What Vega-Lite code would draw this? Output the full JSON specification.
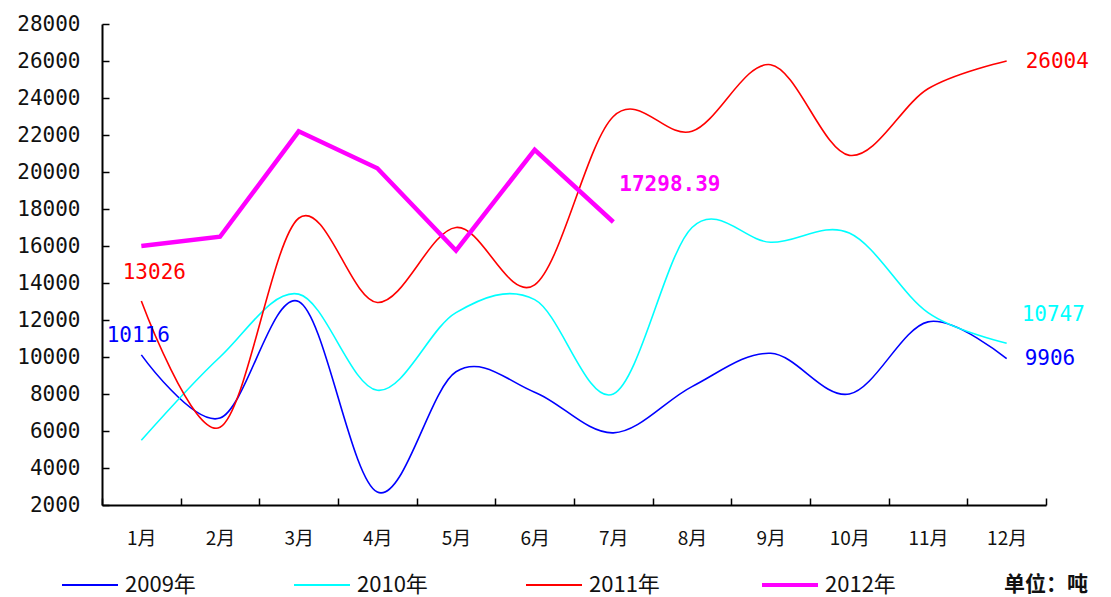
{
  "$schema": "https://vega.github.io/schema/vega-lite/v6.json",
  "width": 944,
  "height": 481,
  "autosize": {"type": "none"},
  "padding": {"left": 102, "top": 24, "right": 65, "bottom": 92},
  "background": "white",
  "config": {"view": {"stroke": null}},
  "data": {"values": [
    {"month": "1月", "year": "2009年", "value": 10116},
    {"month": "2月", "year": "2009年", "value": 6700},
    {"month": "3月", "year": "2009年", "value": 13000},
    {"month": "4月", "year": "2009年", "value": 2700},
    {"month": "5月", "year": "2009年", "value": 9200},
    {"month": "6月", "year": "2009年", "value": 8100},
    {"month": "7月", "year": "2009年", "value": 5900},
    {"month": "8月", "year": "2009年", "value": 8400},
    {"month": "9月", "year": "2009年", "value": 10200},
    {"month": "10月", "year": "2009年", "value": 8000},
    {"month": "11月", "year": "2009年", "value": 11900},
    {"month": "12月", "year": "2009年", "value": 9906},
    {"month": "1月", "year": "2010年", "value": 5500},
    {"month": "2月", "year": "2010年", "value": 10000},
    {"month": "3月", "year": "2010年", "value": 13400},
    {"month": "4月", "year": "2010年", "value": 8200},
    {"month": "5月", "year": "2010年", "value": 12400},
    {"month": "6月", "year": "2010年", "value": 13100},
    {"month": "7月", "year": "2010年", "value": 8000},
    {"month": "8月", "year": "2010年", "value": 17000},
    {"month": "9月", "year": "2010年", "value": 16200},
    {"month": "10月", "year": "2010年", "value": 16700},
    {"month": "11月", "year": "2010年", "value": 12400},
    {"month": "12月", "year": "2010年", "value": 10747},
    {"month": "1月", "year": "2011年", "value": 13026},
    {"month": "2月", "year": "2011年", "value": 6200},
    {"month": "3月", "year": "2011年", "value": 17500},
    {"month": "4月", "year": "2011年", "value": 12950},
    {"month": "5月", "year": "2011年", "value": 17000},
    {"month": "6月", "year": "2011年", "value": 13900},
    {"month": "7月", "year": "2011年", "value": 23000},
    {"month": "8月", "year": "2011年", "value": 22200},
    {"month": "9月", "year": "2011年", "value": 25800},
    {"month": "10月", "year": "2011年", "value": 20900},
    {"month": "11月", "year": "2011年", "value": 24500},
    {"month": "12月", "year": "2011年", "value": 26004},
    {"month": "1月", "year": "2012年", "value": 16000},
    {"month": "2月", "year": "2012年", "value": 16500},
    {"month": "3月", "year": "2012年", "value": 22200},
    {"month": "4月", "year": "2012年", "value": 20200},
    {"month": "5月", "year": "2012年", "value": 15750},
    {"month": "6月", "year": "2012年", "value": 21200},
    {"month": "7月", "year": "2012年", "value": 17298.39}
  ]},
  "encoding": {
    "x": {
      "field": "month", "type": "ordinal",
      "sort": ["1月","2月","3月","4月","5月","6月","7月","8月","9月","10月","11月","12月"],
      "scale": {"paddingInner": 0, "paddingOuter": 0},
      "axis": {
        "title": null, "labelAngle": 0, "tickBand": "extent",
        "domainColor": "#000", "domainWidth": 2, "tickColor": "#000", "tickWidth": 1.5, "tickSize": -7,
        "labelPadding": 40, "labelFont": "Noto Sans CJK SC", "labelFontSize": 19, "labelColor": "#111",
        "labelBaseline": "middle"
      }
    },
    "y": {
      "field": "value", "type": "quantitative",
      "scale": {"domain": [2000, 28000], "nice": false, "zero": false},
      "axis": {
        "title": null, "grid": false,
        "values": [2000,4000,6000,8000,10000,12000,14000,16000,18000,20000,22000,24000,26000,28000],
        "format": "d",
        "domainColor": "#000", "domainWidth": 2, "tickColor": "#000", "tickWidth": 1.5, "tickSize": -7,
        "labelPadding": 29, "labelFont": "DejaVu Sans Mono", "labelFontSize": 21, "labelColor": "#111"
      }
    },
    "color": {"field": "year", "type": "nominal",
      "scale": {"domain": ["2009年","2010年","2011年","2012年"], "range": ["#0000FF","#00FFFF","#FF0000","#FF00FF"]},
      "legend": {
        "orient": "none", "legendX": -23, "legendY": 550, "direction": "horizontal",
        "symbolType": "stroke", "symbolSize": 3136, "symbolStrokeWidth": 2,
        "labelFont": "Noto Sans CJK SC", "labelFontSize": 22,
        "labelColor": "#111", "labelOffset": 24, "columnPadding": 94,
        "title": "单位：吨", "titleOrient": "right", "titleFont": "Noto Sans CJK SC", "titleFontWeight": "bold",
        "titleFontSize": 21, "titlePadding": 108, "titleColor": "#111",
        "encode": {"symbols": {"update": {"strokeWidth": {"signal": "datum.value === '2012年' ? 4 : 2"}}}}
      }
    }
  },
  "layer": [
    {
      "transform": [{"filter": "datum.year !== '2012年'"}],
      "mark": {"type": "line", "interpolate": "cardinal", "strokeWidth": 1.6}
    },
    {
      "transform": [{"filter": "datum.year === '2012年'"}],
      "mark": {"type": "line", "interpolate": "linear", "strokeWidth": 4.5}
    },
    {
      "transform": [{"filter": "datum.month === '1月' && datum.year === '2009年'"}],
      "mark": {"type": "text", "dy": -19, "dx": -3, "font": "DejaVu Sans Mono", "fontSize": 21},
      "encoding": {"text": {"field": "value", "type": "quantitative", "format": "d"}, "color": {"value": "#0000FF"}}
    },
    {
      "transform": [{"filter": "datum.month === '1月' && datum.year === '2011年'"}],
      "mark": {"type": "text", "dy": -28, "dx": 13, "font": "DejaVu Sans Mono", "fontSize": 21},
      "encoding": {"text": {"field": "value", "type": "quantitative", "format": "d"}, "color": {"value": "#FF0000"}}
    },
    {
      "transform": [{"filter": "datum.month === '12月' && datum.year === '2009年'"}],
      "mark": {"type": "text", "align": "left", "dx": 18, "font": "DejaVu Sans Mono", "fontSize": 21},
      "encoding": {"text": {"field": "value", "type": "quantitative", "format": "d"}, "color": {"value": "#0000FF"}}
    },
    {
      "transform": [{"filter": "datum.month === '12月' && datum.year === '2010年'"}],
      "mark": {"type": "text", "align": "left", "dx": 15, "dy": -28, "font": "DejaVu Sans Mono", "fontSize": 21},
      "encoding": {"text": {"field": "value", "type": "quantitative", "format": "d"}, "color": {"value": "#00FFFF"}}
    },
    {
      "transform": [{"filter": "datum.month === '12月' && datum.year === '2011年'"}],
      "mark": {"type": "text", "align": "left", "dx": 19, "dy": 1, "font": "DejaVu Sans Mono", "fontSize": 21},
      "encoding": {"text": {"field": "value", "type": "quantitative", "format": "d"}, "color": {"value": "#FF0000"}}
    },
    {
      "transform": [{"filter": "datum.month === '7月' && datum.year === '2012年'"}],
      "mark": {"type": "text", "align": "left", "dy": -37, "dx": 6, "font": "DejaVu Sans Mono", "fontSize": 21, "fontWeight": "bold"},
      "encoding": {"text": {"field": "value", "type": "quantitative", "format": ".2f"}, "color": {"value": "#FF00FF"}}
    }
  ]
}
